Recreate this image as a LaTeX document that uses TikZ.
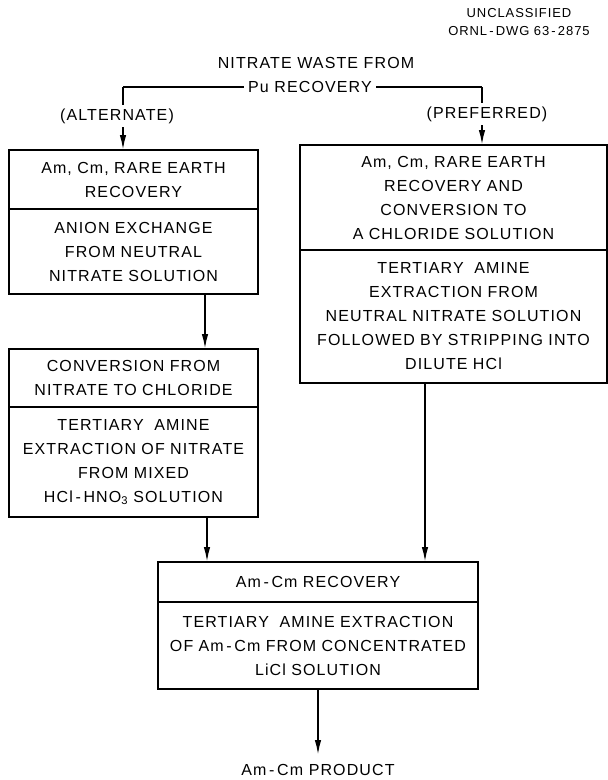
\documentclass[tikz,border=0pt]{standalone}
\usepackage{fontspec}
\setmainfont{Liberation Sans}[LetterSpace=7]
\usetikzlibrary{arrows.meta,positioning}

\begin{document}
\begin{tikzpicture}[x=1pt,y=-1pt,
    stage/.style={draw, line width=1.3pt, outer sep=0pt, inner sep=0pt,
        align=center, text width=#1, font=\fontsize{16}{24}\selectfont},
    flow/.style={line width=1.8pt, -{Latex[length=15pt,width=6.5pt]}},
    tag/.style={font=\fontsize{16}{24}\selectfont, fill=white, inner sep=4pt}]
    \useasboundingbox (0,0) rectangle (608,780);

    % Drawing number
    \node[font=\fontsize{13}{18}\selectfont, align=center] (dwg) at (519,22)
        {UNCLASSIFIED\\ORNL\,-\,DWG 63\,-\,2875};

    % Alternate route (left)
    \node[stage=249pt, minimum height=59pt, anchor=north] (altRec) at (133.5,150)
        {Am, Cm, RARE EARTH\\RECOVERY};
    \node[stage=249pt, minimum height=85pt, below=0pt of altRec] (altIx)
        {ANION EXCHANGE\\FROM NEUTRAL\\NITRATE SOLUTION};
    \node[stage=249pt, minimum height=58pt, anchor=north] (altConv) at (133.5,349)
        {CONVERSION FROM\\NITRATE TO CHLORIDE};
    \node[stage=249pt, minimum height=110pt, below=0pt of altConv] (altExt)
        {TERTIARY\ \ AMINE\\EXTRACTION OF NITRATE\\FROM MIXED\\HCl\,-\,HNO\textsubscript{3} SOLUTION};

    % Preferred route (right)
    \node[stage=307pt, minimum height=105pt, anchor=north] (prefRec) at (453.5,145)
        {Am, Cm, RARE EARTH\\RECOVERY AND\\CONVERSION TO\\A CHLORIDE SOLUTION};
    \node[stage=307pt, minimum height=133pt, below=0pt of prefRec] (prefExt)
        {TERTIARY\ \ AMINE\\EXTRACTION FROM\\NEUTRAL NITRATE SOLUTION\\FOLLOWED BY STRIPPING INTO\\DILUTE HCl};

    % Common Am-Cm step
    \node[stage=320pt, minimum height=40pt, anchor=north] (amRec) at (318,562)
        {Am\,-\,Cm RECOVERY};
    \node[stage=320pt, minimum height=87pt, below=0pt of amRec] (amExt)
        {TERTIARY\ \ AMINE EXTRACTION\\OF Am\,-\,Cm FROM CONCENTRATED\\LiCl SOLUTION};

    % Feed split
    \coordinate (altTurn) at (123,87);
    \coordinate (prefTurn) at (482,87);
    \draw[line width=1.8pt] (altTurn) -- (prefTurn);
    \draw[flow] (altTurn) -- (altTurn |- altRec.north);
    \draw[flow] (prefTurn) -- (prefTurn |- prefRec.north);

    % Connections between steps
    \draw[flow] (altIx.south -| 205,0) -- (altConv.north -| 205,0);
    \draw[flow] (altExt.south -| 207,0) -- (amRec.north -| 207,0);
    \draw[flow] (prefExt.south -| 425,0) -- (amRec.north -| 425,0);
    \coordinate (product) at (318,755);
    \draw[flow] (amExt.south) -- (product);

    % Labels over the feed lines
    \node[tag] (feed) at (316,63) {NITRATE WASTE FROM};
    \node[tag] (pu) at (310,87) {Pu RECOVERY};
    \node[tag] (altTag) at (117,116) {(ALTERNATE)};
    \node[tag] (prefTag) at (487,114) {(PREFERRED)};
    \node[font=\fontsize{16}{24}\selectfont] (prodTag) at (318,770) {Am\,-\,Cm PRODUCT};
\end{tikzpicture}
\end{document}
